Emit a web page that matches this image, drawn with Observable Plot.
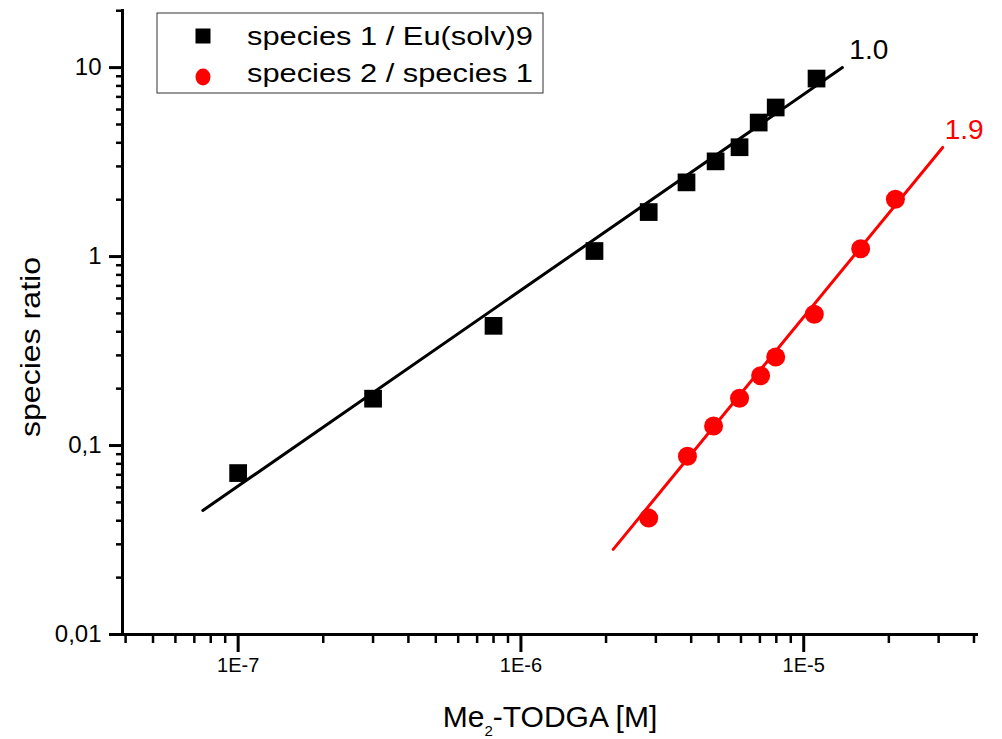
<!DOCTYPE html>
<html>
<head>
<meta charset="utf-8">
<script src="https://cdn.jsdelivr.net/npm/d3@7"></script>
<script src="https://cdn.jsdelivr.net/npm/@observablehq/plot@0.6"></script>
<style>
  body { margin: 0; background: #fff; }
  #chart { width: 1002px; height: 739px; }
</style>
</head>
<body>
<div id="chart"></div>
<script>
// ---- data ----
const sp1Conc  = [1.0e-7, 3.0e-7, 8.0e-7, 1.82e-6, 2.83e-6, 3.85e-6, 4.88e-6, 5.93e-6, 6.93e-6, 7.96e-6, 1.11e-5];
const sp1Ratio = [0.0715, 0.177, 0.43, 1.07, 1.72, 2.47, 3.19, 3.79, 5.12, 6.15, 8.75];
const sp2Conc  = [2.83e-6, 3.88e-6, 4.80e-6, 5.93e-6, 7.04e-6, 7.96e-6, 1.09e-5, 1.59e-5, 2.11e-5];
const sp2Ratio = [0.0413, 0.0878, 0.127, 0.178, 0.234, 0.294, 0.495, 1.10, 2.01];
const fit1Conc  = [7.5e-8, 1.37e-5];
const fit1Ratio = [0.0453, 10.0];
const fit2Conc  = [2.12e-6, 3.1e-5];
const fit2Ratio = [0.0282, 3.78];
const slopeLabels = ["1.0", "1.9"];
const slopeConc   = [1.45e-5, 3.15e-5];
const slopeRatio  = [12.4, 4.67];
const seriesNames = ["species 1 / Eu(solv)9", "species 2 / species 1"];
const xTicks = [1e-7, 1e-6, 1e-5];
const xTickLabels = ["1E-7", "1E-6", "1E-5"];
const yTicks = [0.01, 0.1, 1, 10];
const yTickLabels = ["0,01", "0,1", "1", "10"];
const xTitle = ["Me", "2", "-TODGA [M]"];
const yTitle = "species ratio";

const xDomain = [3.9e-8, 4.15e-5];
const yDomain = [0.01, 20.3];

function minorTicks(lo, hi) {
  const out = [];
  for (let e = -9; e <= 3; e++) for (let m = 2; m <= 9; m++) {
    const v = m * Math.pow(10, e);
    if (v >= lo * 0.999 && v <= hi * 1.001) out.push(v);
  }
  return out;
}
const xMinor = minorTicks(xDomain[0], xDomain[1]);
const yMinor = minorTicks(yDomain[0], yDomain[1]);

const sp1 = sp1Conc.map((x, i) => ({x, y: sp1Ratio[i]}));
const sp2 = sp2Conc.map((x, i) => ({x, y: sp2Ratio[i]}));
const fit1 = fit1Conc.map((x, i) => ({x, y: fit1Ratio[i]}));
const fit2 = fit2Conc.map((x, i) => ({x, y: fit2Ratio[i]}));
const slopes = slopeLabels.map((t, i) => ({t, x: slopeConc[i], y: slopeRatio[i], i}));
const xLab = xTicks.map((x, i) => ({x, t: xTickLabels[i]}));
const yFmt = new Map(yTicks.map((t, i) => [t, yTickLabels[i]]));

const RED = "#ff0000";
const FONT = '"Liberation Sans", Arial, sans-serif';

const plot = Plot.plot({
  width: 1002, height: 739,
  marginLeft: 122, marginRight: 24, marginTop: 9, marginBottom: 105,
  style: {fontFamily: FONT, background: "#fff", color: "#000"},
  x: {type: "log", domain: xDomain},
  y: {type: "log", domain: yDomain},
  marks: [
    Plot.axisX(xMinor, {tickSize: 9, tickFormat: () => "", strokeWidth: 2.5, label: null}),
    Plot.axisX(xTicks, {tickSize: 18, tickFormat: () => "", strokeWidth: 3, label: null}),
    Plot.text(xLab, {x: "x", text: "t", frameAnchor: "bottom", dy: 37, fontSize: 20,
      fill: "#000", ariaLabel: "xticklabels"}),
    Plot.axisY(yMinor, {tickSize: 6, tickFormat: () => "", strokeWidth: 2.5, label: null}),
    Plot.axisY(yTicks, {tickSize: 13, tickPadding: 8, tickFormat: d => yFmt.get(d), fontSize: 24, strokeWidth: 3, label: null}),
    Plot.ruleX([xDomain[0]], {strokeWidth: 3}),
    Plot.ruleY([yDomain[0]], {strokeWidth: 3}),
    Plot.line(fit1, {x: "x", y: "y", stroke: "#000", strokeWidth: 3}),
    Plot.line(fit2, {x: "x", y: "y", stroke: RED, strokeWidth: 3}),
    Plot.dot(sp1, {x: "x", y: "y", symbol: "square", r: 10, fill: "#000", stroke: null}),
    Plot.dot(sp2, {x: "x", y: "y", symbol: "circle", r: 9.5, fill: RED, stroke: null}),
    Plot.text(slopes, {x: "x", y: "y", text: "t", textAnchor: "start", fontSize: 28,
      fill: d => d.i === 0 ? "#000" : RED})
  ]
});
document.getElementById("chart").appendChild(plot);

const svg = d3.select(plot);
svg.selectAll('[aria-label="xticklabels"] text')
  .attr("textLength", 45).attr("lengthAdjust", "spacingAndGlyphs");

// ---- titles & legend ----
const xt = svg.append("text")
  .attr("x", 550).attr("y", 727)
  .attr("text-anchor", "middle")
  .attr("font-family", FONT).attr("font-size", 30).attr("fill", "#000");
xt.append("tspan").text(xTitle[0]);
xt.append("tspan").attr("font-size", 15).attr("dy", 9).text(xTitle[1]);
xt.append("tspan").attr("dy", -9).text(xTitle[2]);

svg.append("text")
  .attr("transform", "translate(40,347) rotate(-90)")
  .attr("text-anchor", "middle")
  .attr("font-family", FONT).attr("font-size", 28).attr("fill", "#000")
  .attr("textLength", 180).attr("lengthAdjust", "spacingAndGlyphs")
  .text(yTitle);

const lg = svg.append("g").attr("text-anchor", "start");
lg.append("rect").attr("x", 157).attr("y", 13).attr("width", 386).attr("height", 80)
  .attr("fill", "#fff").attr("stroke", "#333").attr("stroke-width", 1);
lg.append("rect").attr("x", 195.5).attr("y", 28.5).attr("width", 15).attr("height", 15).attr("fill", "#000");
lg.append("ellipse").attr("cx", 203).attr("cy", 77).attr("rx", 7.5).attr("ry", 8.5).attr("fill", RED);
[45, 82].forEach((y, i) => {
  lg.append("text").attr("x", 247).attr("y", y)
    .attr("text-anchor", "start")
    .attr("font-family", FONT).attr("font-size", 25).attr("fill", "#000")
    .attr("textLength", 286).attr("lengthAdjust", "spacingAndGlyphs")
    .text(seriesNames[i]);
});
</script>
</body>
</html>
